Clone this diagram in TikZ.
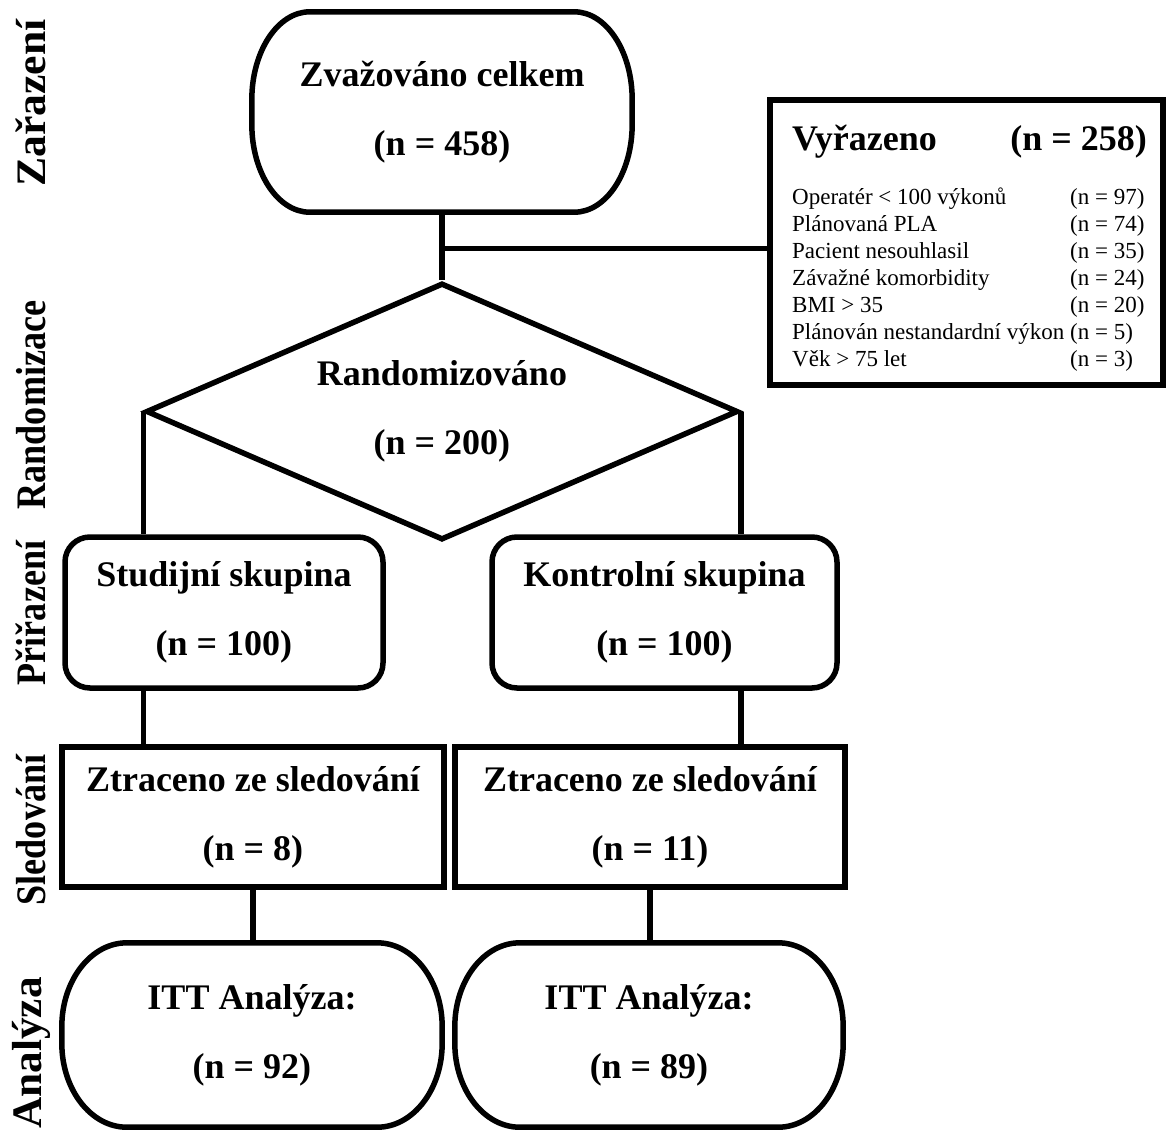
\documentclass[tikz,border=0pt]{standalone}
\usepackage{fontspec}
\setmainfont{Liberation Serif}
\usetikzlibrary{shapes.geometric}

\tikzset{
  frame/.style={line width=5.5pt},
  big/.style={font=\fontsize{36}{69}\selectfont\bfseries, align=center, inner sep=0pt},
  small/.style={font=\fontsize{23}{27}\selectfont, inner sep=0pt, anchor=base west},
  rbox/.style={big, draw, frame, rounded corners=25pt},
  sbox/.style={big, draw, frame},
  side/.style={rotate=90, font=\fontsize{42}{42}\selectfont\bfseries, inner sep=0pt},
}

% oval frame round a node: node, x radius, y radius
\newcommand{\ovalframe}[3]{%
  \draw[frame] ([xshift=#2]#1.north west) -- ([xshift=-#2]#1.north east)
    arc[start angle=90, end angle=0, x radius=#2, y radius=#3]
    -- ([yshift=#3]#1.south east)
    arc[start angle=0, end angle=-90, x radius=#2, y radius=#3]
    -- ([xshift=#2]#1.south west)
    arc[start angle=270, end angle=180, x radius=#2, y radius=#3]
    -- ([yshift=-#3]#1.north west)
    arc[start angle=180, end angle=90, x radius=#2, y radius=#3] -- cycle;}

\begin{document}
\begin{tikzpicture}[x=1pt, y=-1pt]
\useasboundingbox (0,0) rectangle (1167,1133);
%%%%% Side labels %%%%%
\node[side] (lzar) at (31,103) {\scalebox{1.04}[1]{Zařazení}};
\node[side] (lrand) at (31,405) {\scalebox{0.86}[1]{Randomizace}};
\node[side] (lpri) at (31,613) {\scalebox{0.86}[1]{Přiřazení}};
\node[side] (lsled) at (31,830) {\scalebox{0.86}[1]{Sledování}};
\node[side] (lanal) at (31,1053) {\scalebox{1.03}[1]{Analýza}};

%%%%% Boxes %%%%%
\node[big, minimum width=380pt, minimum height=200pt] (start) at (442,112) {Zvažováno celkem\\(n = 458)};
\ovalframe{start}{58pt}{88pt}

\node[draw, frame, minimum width=393pt, minimum height=285pt] (excl) at (966.5,242.5) {};
\node[font=\fontsize{36}{36}\selectfont\bfseries, inner sep=0pt, anchor=base west] (exhead) at (792,150) {Vyřazeno};
\node[font=\fontsize{36}{36}\selectfont\bfseries, inner sep=0pt, anchor=base east] (exnum) at (1147,150) {(n = 258)};
\foreach \why/\num [count=\i] in {Operatér < 100 výkonů/97, Plánovaná PLA/74, Pacient nesouhlasil/35,
    Závažné komorbidity/24, BMI > 35/20, Plánován nestandardní výkon/5, Věk > 75 let/3}{
  \node[small] (why\i) at (792,177+27*\i) {\why};
  \node[small] (cnt\i) at (1070,177+27*\i) {(n = \num)};
}

\node[big, draw, frame, diamond, aspect=2.3, minimum width=592pt, minimum height=257pt] (rand) at (442,411.5) {Randomizováno\\(n = 200)};

\node[rbox, minimum width=318pt, minimum height=151pt] (study) at (224,612.5) {Studijní skupina\\(n = 100)};
\node[rbox, minimum width=345pt, minimum height=151pt] (ctrl) at (664.5,612.5) {Kontrolní skupina\\(n = 100)};

\node[sbox, minimum width=382pt, minimum height=140pt] (lostA) at (253,817) {Ztraceno ze sledování\\(n = 8)};
\node[sbox, minimum width=390pt, minimum height=140pt] (lostB) at (650,817) {Ztraceno ze sledování\\(n = 11)};

\node[big, minimum width=380pt, minimum height=184pt] (ittA) at (252,1035) {ITT Analýza:\\(n = 92)};
\ovalframe{ittA}{65pt}{84pt}
\node[big, minimum width=388pt, minimum height=184pt] (ittB) at (649,1035) {ITT Analýza:\\(n = 89)};
\ovalframe{ittB}{65pt}{84pt}

%%%%% Connectors %%%%%
\draw[frame] (start.south) -- (rand.north);
\path (start.south) -- coordinate[pos=0.53] (split) (rand.north);
\draw[frame] (split) -- (split -| excl.west);
\draw[frame] (rand.west) -- (rand.west |- study.north);
\draw[frame] (rand.east) -- (rand.east |- ctrl.north);
\draw[frame] (rand.west |- study.south) -- (rand.west |- lostA.north);
\draw[frame] (rand.east |- ctrl.south) -- (rand.east |- lostB.north);
\draw[frame] (lostA.south) -- (lostA.south |- ittA.north);
\draw[frame] (lostB.south) -- (lostB.south |- ittB.north);
\end{tikzpicture}
\end{document}
